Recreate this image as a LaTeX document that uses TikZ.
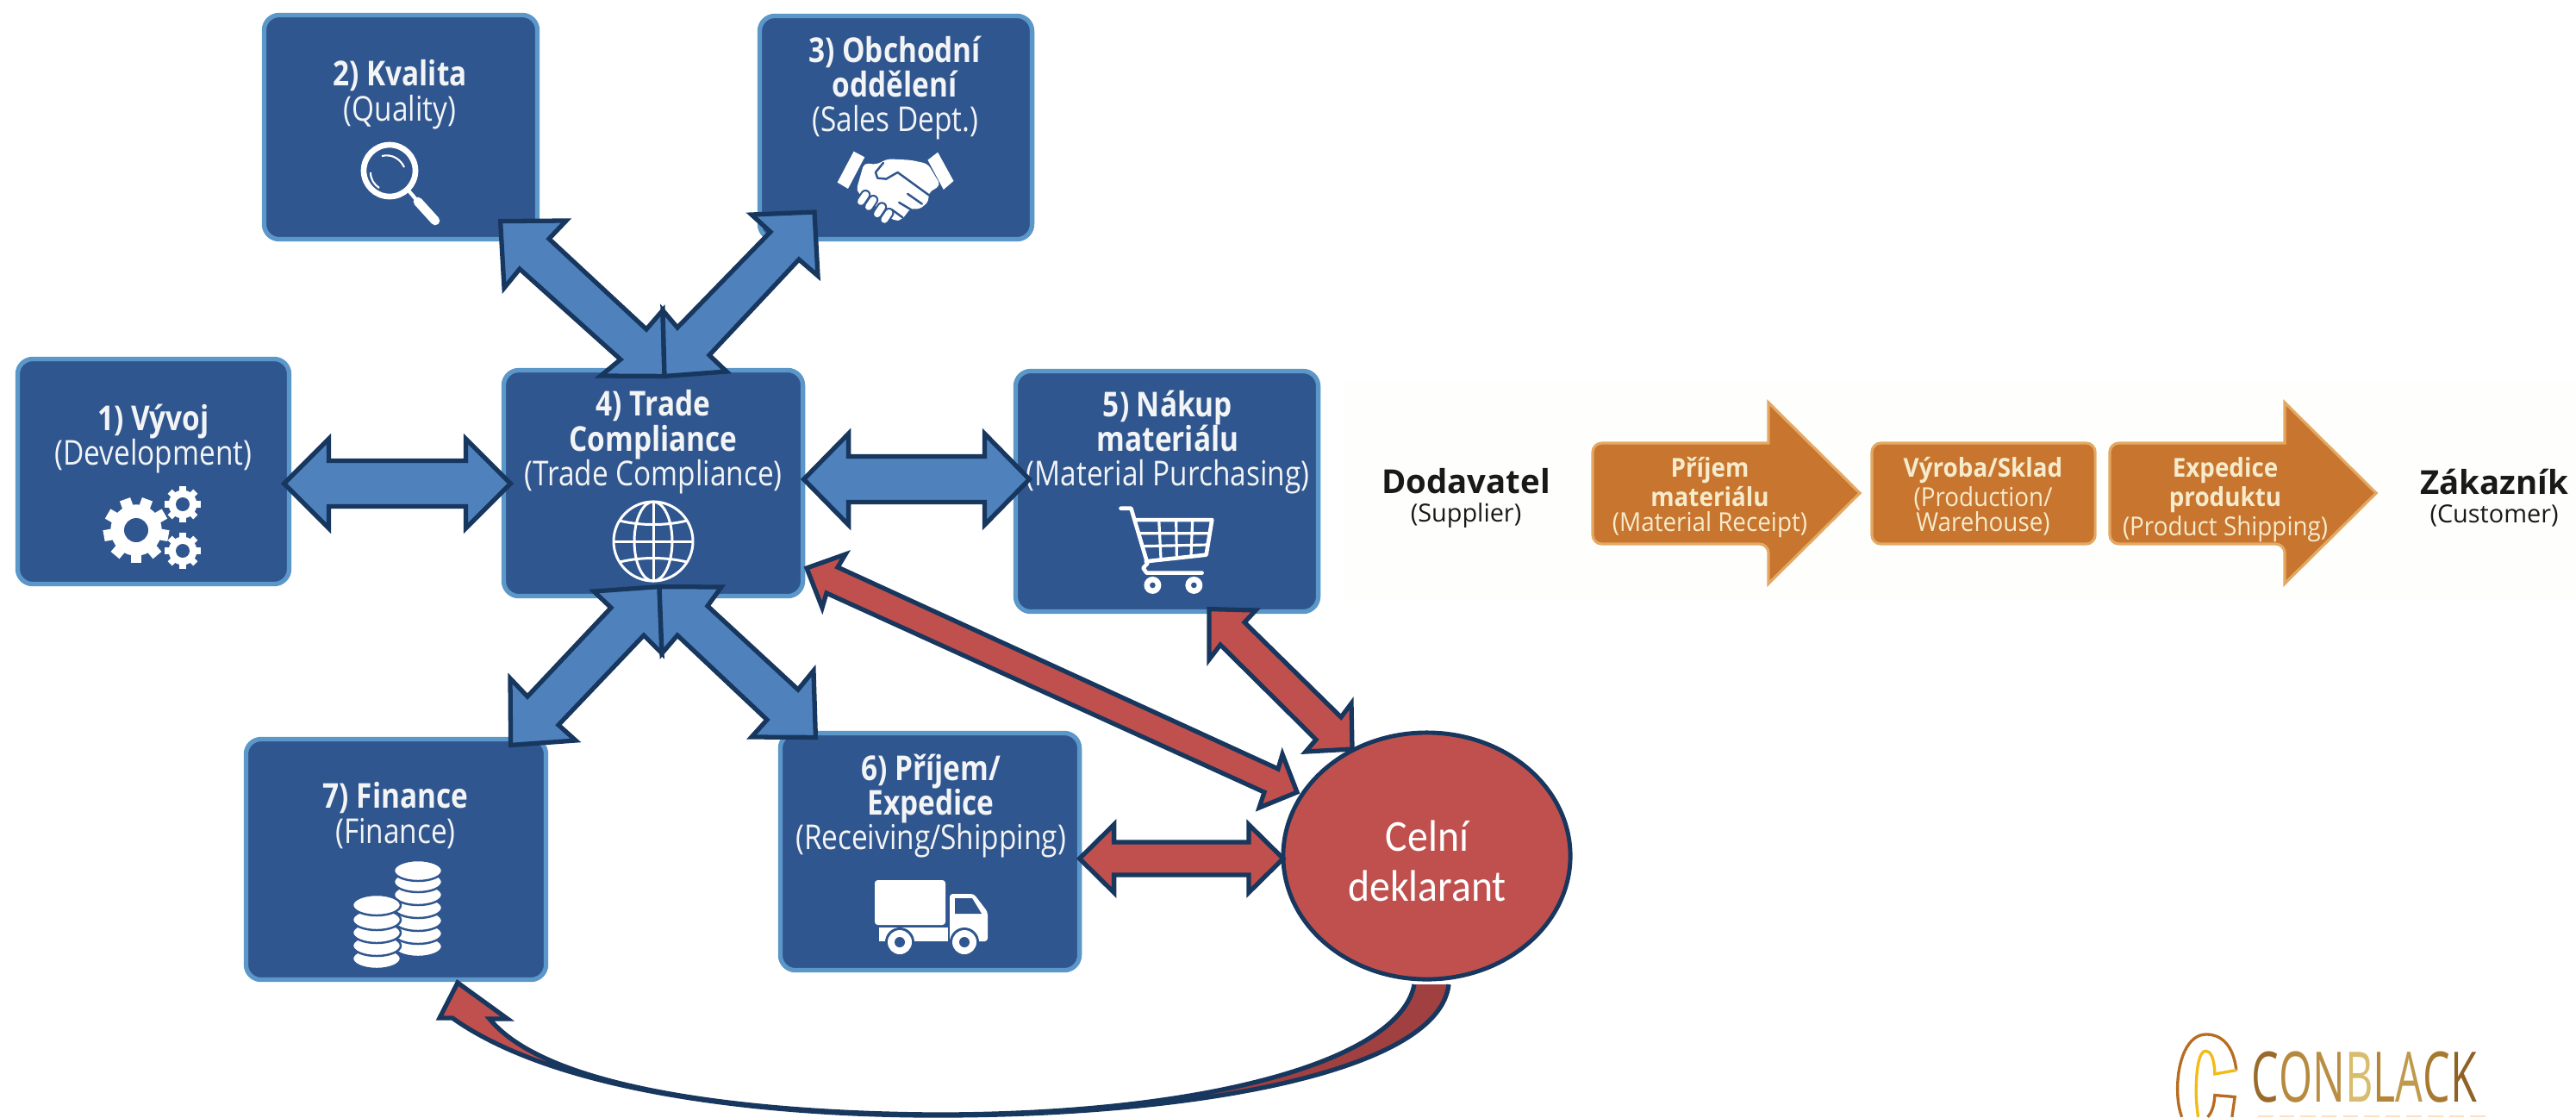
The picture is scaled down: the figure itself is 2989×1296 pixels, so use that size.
\documentclass[tikz,border=0pt]{standalone}
\usepackage{fontspec}
\usetikzlibrary{calc,shapes.geometric}
\newfontfamily\bluef[FakeStretch=0.84]{Open Sans}
\newfontfamily\orf[FakeStretch=0.92]{Open Sans}
\newfontfamily\blkf{Open Sans}
\newfontfamily\celf[FakeStretch=0.93]{Carlito}
\newfontfamily\logof[FakeStretch=0.62,LetterSpace=2]{Open Sans}
\definecolor{boxfill}{HTML}{30568F}
\definecolor{boxline}{HTML}{5B97C9}
\definecolor{arrblue}{HTML}{4F81BD}
\definecolor{arrline}{HTML}{17375E}
\definecolor{arrred}{HTML}{C0504D}
\definecolor{arrdark}{HTML}{A04040}
\definecolor{orfill}{HTML}{C8752F}
\definecolor{orline}{HTML}{E3A862}
\definecolor{orpale}{HTML}{FEFEFC}
\definecolor{cream}{HTML}{F6EBCB}
\definecolor{txtw}{HTML}{F2F4F5}
\newcommand\tsb{\rule{0pt}{8.535pt}}
\newcommand\tso{\rule{0pt}{6.26pt}}
\newcommand\hdbl[6]{\draw[#1] (#2) -- ($(#2)+(#4,-#5)$) -- ($(#2)+(#4,-#6)$) -- ($(#3)+(-#4,-#6)$) -- ($(#3)+(-#4,-#5)$) -- (#3) -- ($(#3)+(-#4,#5)$) -- ($(#3)+(-#4,#6)$) -- ($(#2)+(#4,#6)$) -- ($(#2)+(#4,#5)$) -- cycle;}
\newcommand\gearicon[5]{% x y R hole teeth
 \begin{scope}[shift={(#1,#2)}]
  \fill[white] (0,0) circle[radius=#3*0.78*0.01cm];
  \foreach \a in {1,...,#5}{
   \fill[white,rotate=\a*360/#5] (-#3*0.17,#3*0.6) rectangle (#3*0.17,#3);
  }
  \fill[boxfill] (0,0) circle[radius=#4*0.01cm];
 \end{scope}}
\tikzset{
 dept/.style={draw=boxline,fill=boxfill,line width=1.5pt,rounded corners=5pt,inner sep=0pt,outer sep=0pt},
 blbl/.style={inner sep=0pt,anchor=north,align=center,text=txtw,font=\bluef\fontsize{11.3}{11.45}\selectfont},
 olbl/.style={inner sep=0pt,anchor=north,align=center,text=cream,font=\orf\fontsize{8.6}{8.25}\selectfont},
 klbl/.style={inner sep=0pt,anchor=north,align=center,text=black!90,font=\blkf\fontsize{8.2}{9.4}\selectfont},
 bluearrow/.style={draw=arrline,fill=arrblue,line width=1.5pt,line join=miter},
 redarrow/.style={draw=arrline,fill=arrred,line width=1.5pt,line join=miter},
 orshape/.style={draw=orline,fill=orfill,line width=0.9pt},
 icon/.style={white,line cap=round,line join=round},
}
\begin{document}
\begin{tikzpicture}[x=0.01cm,y=-0.01cm]
\useasboundingbox (0,0) rectangle (2989,1296);
\fill[orpale] (1561,442) rectangle (2989,695);
% department boxes
\node[dept,minimum width=3.15cm,minimum height=2.61cm] (b1) at (178,547) {};
\node[dept,minimum width=3.17cm,minimum height=2.60cm] (b2) at (465,147.5) {};
\node[dept,minimum width=3.16cm,minimum height=2.59cm] (b3) at (1039.5,148) {};
\node[dept,minimum width=3.47cm,minimum height=2.62cm] (b4) at (758,560.5) {};
\node[dept,minimum width=3.51cm,minimum height=2.79cm] (b5) at (1354,570) {};
\node[dept,minimum width=3.47cm,minimum height=2.75cm] (b6) at (1079,988) {};
\node[dept,minimum width=3.48cm,minimum height=2.79cm] (b7) at (459.5,997) {};
% labels
\node[blbl] (t1) at (178,468) {\tsb\textbf{1) Vývoj}\\(Development)};
\node[blbl] (t2) at (464,69) {\tsb\textbf{2) Kvalita}\\(Quality)};
\node[blbl] (t3) at (1039,41) {\tsb\textbf{3) Obchodní}\\\textbf{oddělení}\\(Sales Dept.)};
\node[blbl] (t4) at (758,452) {\tsb\textbf{4) Trade}\\\textbf{Compliance}\\(Trade Compliance)};
\node[blbl] (t5) at (1355,452) {\tsb\textbf{5) Nákup}\\\textbf{materiálu}\\(Material Purchasing)};
\node[blbl] (t6) at (1080,874) {\tsb\textbf{6) Příjem/}\\\textbf{Expedice}\\(Receiving/Shipping)};
\node[blbl] (t7) at (459,907) {\tsb\textbf{7) Finance}\\(Finance)};
% icons: gears
\gearicon{158}{615}{38}{14}{9}
\gearicon{212}{585}{21}{8}{8}
\gearicon{212}{639}{21}{8}{8}
% magnifier
\draw[white,line width=1.9pt] (452,198) circle[radius=30];
\draw[white,line width=0.6pt] (443,181) .. controls (455,178) and (465,185) .. (469,194);
\draw[white,line width=0.6pt] (430,200) .. controls (430,208) and (434,214) .. (440,218);
\draw[icon,line width=1.2pt] (474,221) -- (485,234);
\draw[icon,line width=3pt] (485,234) -- (505,256);
% handshake
\begin{scope}[shift={(960,165)},x=0.00333cm,y=-0.00333cm]
 \fill[white,rounded corners=1.5pt] (128,72) -- (170,78) -- (210,58) -- (290,62) -- (350,75) -- (395,150) -- (350,178) -- (355,205) -- (320,235) -- (290,230) -- (260,270) -- (235,275) -- (100,170) -- cycle;
 \fill[white] (35,140) -- (92,32) -- (130,52) -- (72,162) -- cycle;
 \fill[white] (350,62) -- (385,35) -- (440,135) -- (405,165) -- cycle;
 \draw[boxfill,line width=0.7pt,line cap=round,line join=round] (195,72) -- (168,105) -- (175,125) -- (205,128) -- (245,105) -- (355,185);
 \draw[boxfill,line width=0.7pt,line cap=round] (280,180) -- (330,215) (250,210) -- (300,240) (225,235) -- (262,262);
 \foreach \xa/\ya in {125/195,152/213,182/238,207/258}{
  \draw[draw=boxfill,line width=3.4pt,line cap=round] (\xa-8,\ya+12) -- (\xa+8,\ya-12);
  \draw[white,line width=2.2pt,line cap=round] (\xa-8,\ya+12) -- (\xa+8,\ya-12);
 }
\end{scope}
% globe
\begin{scope}[shift={(758,628)}]
 \draw[white,line width=0.85pt] (0,0) circle[radius=46];
 \draw[white,line width=0.85pt] (0,0) ellipse[x radius=22,y radius=46];
 \draw[white,line width=0.85pt] (0,-46) -- (0,46) (-46,0) -- (46,0);
 \draw[white,line width=0.85pt] (-39,-24) .. controls (-15,-18) and (15,-18) .. (39,-24);
 \draw[white,line width=0.85pt] (-39,24) .. controls (-15,18) and (15,18) .. (39,24);
\end{scope}
% cart
\begin{scope}[shift={(1170,420)},x=0.00333cm,y=-0.00333cm]
 \draw[icon,line width=1.3pt] (392,510) -- (428,510) -- (485,702) -- (470,718) -- (482,735) -- (675,735);
 \draw[icon,line width=1.3pt] (445,550) -- (710,550) -- (690,672) -- (480,695);
 \draw[white,line width=0.9pt] (455,597) -- (703,597) (468,642) -- (695,637) (525,550) -- (532,688) (585,550) -- (587,682) (642,550) -- (637,676);
 \foreach \xw in {503,647}{
  \fill[white] (\xw,778) circle[radius=30];
  \fill[boxfill] (\xw,778) circle[radius=10];
 }
\end{scope}
% coins
\foreach \yc in {1098,1083,1068,1053,1038,1023,1010}{
 \draw[boxfill,fill=white,line width=0.7pt] (485,\yc) ellipse[x radius=28,y radius=12];
}
\foreach \yc in {1112,1097,1082,1067,1050}{
 \draw[boxfill,fill=white,line width=0.7pt] (437,\yc) ellipse[x radius=28,y radius=12];
}
% truck
\fill[white,rounded corners=1pt] (1015,1021) rectangle (1097,1073);
\fill[white] (1020,1076) rectangle (1100,1092);
\fill[white,rounded corners=1pt] (1102,1037) -- (1130,1037) -- (1146,1058) -- (1146,1092) -- (1102,1092) -- cycle;
\fill[boxfill] (1108,1042) -- (1128,1042) -- (1139,1060) -- (1108,1060) -- cycle;
\foreach \xw in {1044,1119}{
 \fill[boxfill] (\xw,1093) circle[radius=17];
 \fill[white] (\xw,1093) circle[radius=14];
 \fill[boxfill] (\xw,1093) circle[radius=6];
}
% blue connectors
\coordinate (a1) at ($(b1.east)+(-6,14)$);
\coordinate (a4l) at ($(b4.west)+(8,0.5)$);
\coordinate (a4r) at ($(b4.east)+(1,-4.5)$);
\coordinate (a5l) at ($(b5.west)+(16,-14)$);
\hdbl{bluearrow}{a1}{a4l}{52}{52}{26.5}
\hdbl{bluearrow}{a4r}{a5l}{52}{53}{26.5}
\coordinate (a2) at ($(b2.south east)+(-43,-21)$);
\coordinate (a3) at ($(b3.south west)+(66,-34)$);
\coordinate (a4t) at ($(b4.north)+(13,7)$);
\coordinate (a4b) at ($(b4.south)+(7,-11)$);
\coordinate (a7) at ($(b7.north east)+(-41,7)$);
\coordinate (a6) at ($(b6.north west)+(41,5)$);
\draw[bluearrow] (a2) -- (657,256) -- (637,277) -- (750,382) -- (769,360) -- (a4t) -- (697,436) -- (720,417) -- (603,312) -- (585,334) -- cycle;
\draw[bluearrow] (769,360) -- (786,380) -- (894,269) -- (872,249) -- (945,246) -- (949,320) -- (927,301) -- (823,412) -- (843,431) -- (a4t) -- cycle;
\draw[bluearrow] (689,686) -- (a4b) -- (768,758) -- (747,737) -- (648,841) -- (668,859) -- (a7) -- (592,787) -- (612,808) -- (709,705) -- cycle;
\draw[bluearrow] (a4b) -- (837,681) -- (821,703) -- (926,800) -- (944,778) -- (a6) -- (872,855) -- (890,835) -- (786,737) -- (768,758) -- cycle;
% customs declarant arc
\coordinate (c1) at (1681,1142);
\coordinate (c2) at (531,1140);
\fill[arrdark] (1641,1142) .. controls (1625,1230) and (1400,1293) .. (1087,1293) .. controls (1400,1294) and (1670,1240) .. (c1) -- cycle;
\fill[arrred] (c2) -- (589,1182) -- (568,1182) .. controls (640,1270) and (900,1292) .. (1087,1293) .. controls (900,1294) and (650,1270) .. (525,1181) -- (510,1181) -- cycle;
\draw[draw=arrline,line width=1.5pt,line join=miter] (c1) .. controls (1670,1240) and (1400,1294) .. (1087,1294) .. controls (900,1294) and (650,1270) .. (525,1181) -- (510,1181) -- (c2) -- (589,1182) -- (568,1182) .. controls (640,1270) and (900,1292) .. (1087,1293) .. controls (1400,1293) and (1625,1230) .. (1641,1142);
% declarant
\node[ellipse,draw=arrline,fill=arrred,line width=1.4pt,minimum width=3.33cm,minimum height=2.86cm,inner sep=0pt,outer sep=0pt] (cd) at (1655.5,993) {};
\node[inner sep=0pt,anchor=north,align=center,text=white,font=\celf\fontsize{14.6}{16.5}\selectfont] (cdt) at (1656,951) {\rule{0pt}{8.25pt}Celní\\deklarant};
% red connectors
\coordinate (r4) at (936,659);
\coordinate (rc1) at (1505,919);
\coordinate (r5) at ($(b5.south)+(49,-3)$);
\coordinate (rc2) at (1569,869);
\coordinate (r6) at ($(b6.east)+(0,8)$);
\coordinate (rc3) at ($(cd.west)+(0,3)$);
\draw[redarrow] (r4) -- (981,643) -- (972,658) -- (1483,892) -- (1488,875) -- (rc1) -- (1461,937) -- (1467,919) -- (959,688) -- (954,705) -- cycle;
\draw[redarrow] (r5) -- (1457,708) -- (1444,722) -- (1556,832) -- (1568,816) -- (rc2) -- (1515,872) -- (1527,858) -- (1416,748) -- (1403,765) -- cycle;
\hdbl{redarrow}{r6}{rc3}{40}{39.5}{19}
% process row
\draw[orshape] (2052,514) [rounded corners=3pt] -- (1848,514) -- (1848,631) -- (2052,631) [sharp corners] -- (2052,677) -- (2158,572) -- (2052,467) -- cycle;
\node[orshape,rounded corners=3pt,minimum width=2.59cm,minimum height=1.17cm,inner sep=0pt,outer sep=0pt] (vs) at (2301.5,572.5) {};
\draw[orshape] (2651,514) [rounded corners=3pt] -- (2448,514) -- (2448,631) -- (2651,631) [sharp corners] -- (2651,677) -- (2757,572) -- (2651,467) -- cycle;
\node[olbl] (o1) at (1984,530) {\tso\textbf{Příjem}\\\textbf{materiálu}\\(Material Receipt)};
\node[olbl] (o2) at (2301,530) {\tso\textbf{Výroba/Sklad}\\(Production/\\Warehouse)};
\node[olbl] (o3) at (2582,530) {\tso\textbf{Expedice}\\\textbf{produktu}\\(Product Shipping)};
\node[klbl] (k1) at (1701,543) {\rule{0pt}{6.8pt}{\fontsize{10.9}{10}\selectfont\textbf{Dodavatel}}\\(Supplier)};
\node[klbl] (k2) at (2894,543) {\rule{0pt}{6.8pt}{\fontsize{10.9}{10}\selectfont\textbf{Zákazník}}\\(Customer)};
% logo
\begin{scope}[shift={(2480,1170)},x=0.00333cm,y=-0.00333cm]
 \draw[color=brown!60!orange!85!black,line width=0.95pt] (345,215) .. controls (335,130) and (295,90) .. (240,90) .. controls (175,90) and (140,180) .. (140,280) .. controls (140,320) and (145,350) .. (155,378);
 \draw[color=brown!60!orange!85!black,line width=0.95pt] (330,378) -- (340,308) -- (270,302) .. controls (268,340) and (258,365) .. (245,378);
 \draw[color=yellow!55!orange!85!brown,line width=0.95pt] (345,215) -- (270,228) .. controls (268,170) and (255,148) .. (238,148) .. controls (215,148) and (205,210) .. (205,290) .. controls (205,320) and (208,350) .. (212,378);
\end{scope}
\node[inner sep=0pt,anchor=base west,font=\logof\fontsize{23}{23}\selectfont] (logo) at (2612,1278) {\textcolor[HTML]{9A6A2A}{C}\textcolor[HTML]{B58A3E}{O}\textcolor[HTML]{B98E42}{N}\textcolor[HTML]{D9BC6E}{B}\textcolor[HTML]{B48638}{L}\textcolor[HTML]{C09A4C}{A}\textcolor[HTML]{A87A30}{C}\textcolor[HTML]{8F6224}{K}};
\draw[color=orange!25!white,line width=0.6pt,dash pattern=on 5pt off 2pt] (2620,1295) -- (2885,1295);
\end{tikzpicture}
\end{document}
